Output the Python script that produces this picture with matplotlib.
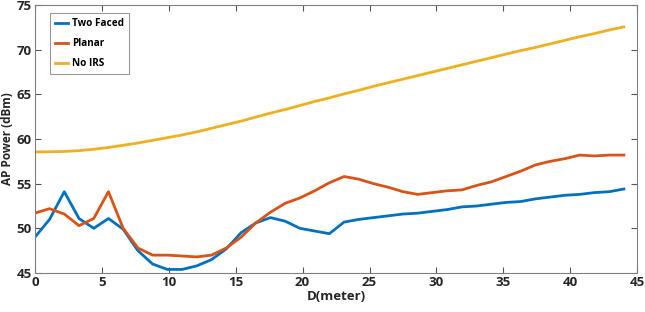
import numpy as np
import matplotlib
matplotlib.use("Agg")
import matplotlib.pyplot as plt

plt.rcParams['font.family'] = ['Open Sans', 'DejaVu Sans']

distance = [round(1.1 * i, 1) for i in range(41)]

two_faced = [49.0, 51.0, 54.1, 51.1, 50.0, 51.1, 49.9, 47.5, 46.0, 45.4,
             45.4, 45.8, 46.5, 47.7, 49.5, 50.6, 51.2, 50.8, 50.0, 49.7,
             49.4, 50.7, 51.0, 51.2, 51.4, 51.6, 51.7, 51.9, 52.1, 52.4,
             52.5, 52.7, 52.9, 53.0, 53.3, 53.5, 53.7, 53.8, 54.0, 54.1, 54.4]

planar = [51.7, 52.2, 51.6, 50.3, 51.1, 54.1, 50.0, 47.8, 47.0, 47.0,
          46.9, 46.8, 47.0, 47.8, 49.0, 50.6, 51.8, 52.8, 53.4, 54.2,
          55.1, 55.8, 55.5, 55.0, 54.6, 54.1, 53.8, 54.0, 54.2, 54.3,
          54.8, 55.2, 55.8, 56.4, 57.1, 57.5, 57.8, 58.2, 58.1, 58.2, 58.2]

no_irs = [58.55, 58.57, 58.6, 58.7, 58.85, 59.05, 59.3, 59.55, 59.85, 60.15,
          60.45, 60.8, 61.2, 61.6, 62.0, 62.45, 62.9, 63.3, 63.75, 64.2,
          64.6, 65.05, 65.45, 65.9, 66.3, 66.7, 67.1, 67.5, 67.9, 68.3,
          68.7, 69.1, 69.5, 69.9, 70.25, 70.65, 71.05, 71.45, 71.8, 72.2, 72.55]

series = [("Two Faced", two_faced, "#0072BD"),
          ("Planar", planar, "#D95319"),
          ("No IRS", no_irs, "#EDB120")]

xticks = [0, 5, 10, 15, 20, 25, 30, 35, 40, 45]
yticks = [45, 50, 55, 60, 65, 70, 75]

fig = plt.figure(figsize=(6.45, 3.12), dpi=100)
ax = fig.add_axes([0.054, 0.125, 0.934, 0.859])
for name, vals, col in series:
    ax.plot(distance, vals, color=col, lw=2.0, label=name)

ax.set_xlim(0, 45)
ax.set_ylim(45, 75)
ax.set_xticks(xticks)
ax.set_yticks(yticks)
ax.tick_params(direction='in', top=True, right=True, length=4, width=0.8,
               colors='#555555', labelcolor='#262626', labelsize=9.5, pad=2)
for lab in ax.get_xticklabels() + ax.get_yticklabels():
    lab.set_fontweight('bold')
for s in ax.spines.values():
    s.set_color('#808080')
    s.set_linewidth(0.8)
ax.set_xlabel('D(meter)', fontsize=9.5, fontweight='bold', color='#262626', labelpad=1)
ax.set_ylabel('AP Power (dBm)', fontsize=8.5, fontweight='bold', color='#262626', labelpad=2)

leg = ax.legend(loc='upper left', bbox_to_anchor=(0.025, 0.97), borderaxespad=0,
                prop={'weight': 'bold', 'size': 7.2}, fancybox=False,
                edgecolor='#808080', handlelength=1.3, handletextpad=0.4,
                labelspacing=0.9, borderpad=0.5)
leg.get_frame().set_linewidth(0.8)

fig.savefig('out.png', dpi=100)
